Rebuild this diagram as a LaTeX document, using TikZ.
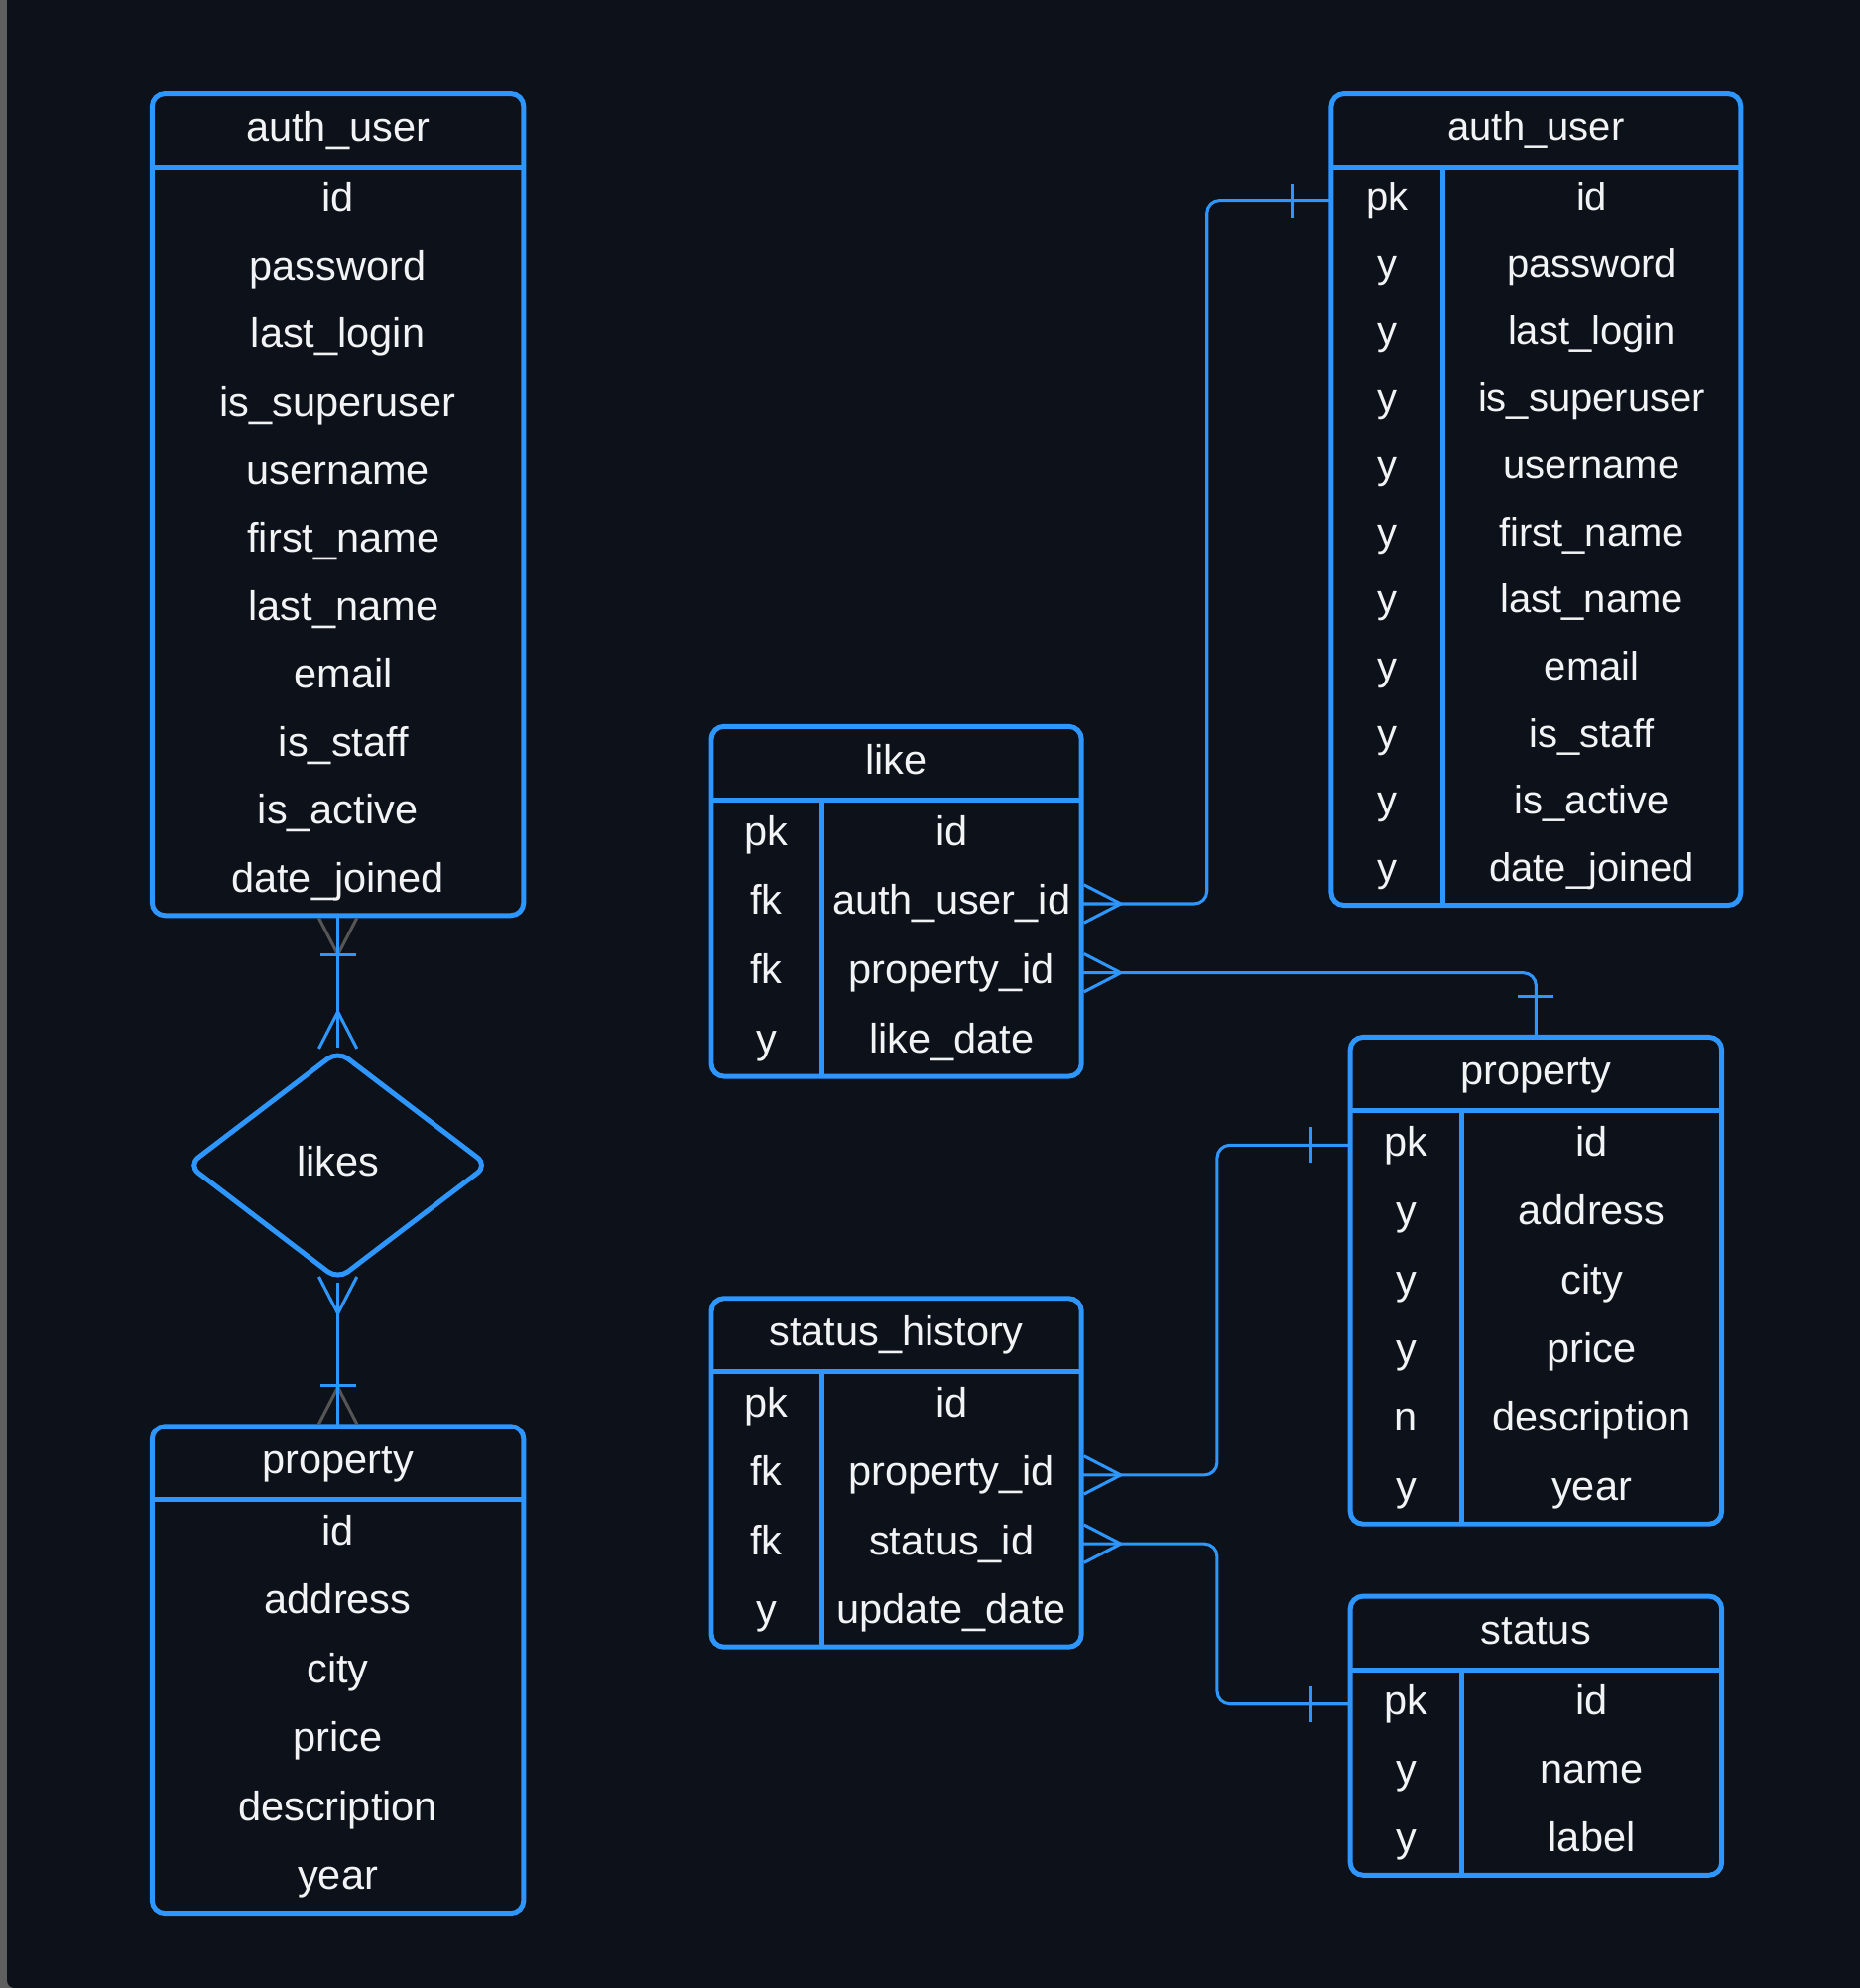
\documentclass[tikz,border=0pt]{standalone}
\usepackage{fontspec}
\setmainfont{Liberation Sans}
\usetikzlibrary{shapes.geometric}
\definecolor{bgdark}{RGB}{13,17,25}
\definecolor{erblue}{RGB}{46,150,255}
\definecolor{frame}{RGB}{95,95,95}
\definecolor{hidden}{RGB}{85,85,85}
\definecolor{txt}{RGB}{242,243,245}
\def\crowfoot[#1](#2)(#3){\draw[#1,shift={(#2)},rotate=#3] (2,15) -- (31,0) -- (2,-15);}
\def\onebar[#1](#2)(#3:#4){\draw[#1,shift={(#2)},rotate=#3] (#4,-14) -- (#4,14);}
\tikzset{
	tbl/.style={rectangle, draw=erblue, line width=3.9pt, rounded corners=10pt, inner sep=0pt, outer sep=0pt},
	sep/.style={draw=erblue, line width=3.9pt},
	cell/.style={text=txt, font=\fontsize{32.5pt}{38pt}\selectfont, inner sep=0pt, text height=25pt, text depth=8pt},
	smallcell/.style={cell, font=\fontsize{31.3pt}{37pt}\selectfont, text height=23pt},
	dia/.style={diamond, draw=erblue, line width=3.9pt, rounded corners=10pt, minimum width=236pt, minimum height=180pt, inner sep=0pt, outer sep=0pt},
	rel/.style={draw=erblue, line width=2.4pt, rounded corners=10pt},
	erend/.style={draw=erblue, line width=2.4pt},
	erhid/.style={draw=hidden, line width=2.4pt}
}

\begin{document}
\begin{tikzpicture}[x=1pt, y=-1pt]
			%%%%% START %%%%%
			
			\useasboundingbox (0,0) rectangle (1467,1568);
			\fill[frame] (0,0) rectangle (1467,1568);
			\fill[bgdark, rounded corners=6pt] (5.5,-20) rectangle (1490,1568);
			
			% left: auth_user -- likes -- property
			\node[tbl, minimum width=293pt, minimum height=648pt] (authL) at (266.5,398) {};
			\draw[sep] ([yshift=-58pt]authL.north west) -- ([yshift=-58pt]authL.north east);
			\node[cell] (authLt) at (266.5,103) {auth\_user};
			\node[cell] (authL1) at (266.5,158.8) {id};
			\node[cell] (authL2) at (266.5,212.5) {password};
			\node[cell] (authL3) at (266.5,266.1) {last\_login};
			\node[cell] (authL4) at (266.5,319.7) {is\_superuser};
			\node[cell] (authL5) at (266.5,373.4) {username};
			\node[cell] (authL6) at (271,427.0) {first\_name};
			\node[cell] (authL7) at (271,480.7) {last\_name};
			\node[cell] (authL8) at (271,534.3) {email};
			\node[cell] (authL9) at (271,587.9) {is\_staff};
			\node[cell] (authL10) at (266.5,641.6) {is\_active};
			\node[cell] (authL11) at (266.5,695.2) {date\_joined};
			
			\node[dia, cell] (likes) at (266.5,919) {likes};
			
			\node[tbl, minimum width=293pt, minimum height=384pt] (propL) at (266.5,1317) {};
			\draw[sep] ([yshift=-58pt]propL.north west) -- ([yshift=-58pt]propL.north east);
			\node[cell] (propLt) at (266.5,1154) {property};
			\node[cell] (propL1) at (266.5,1210.2) {id};
			\node[cell] (propL2) at (266.5,1264.5) {address};
			\node[cell] (propL3) at (266.5,1318.8) {city};
			\node[cell] (propL4) at (266.5,1373.2) {price};
			\node[cell] (propL5) at (266.5,1427.5) {description};
			\node[cell] (propL6) at (266.5,1481.8) {year};
			
			\crowfoot[erhid](authL.south)(-90);
			\crowfoot[erhid](propL.north)(90);
			\draw[rel, shorten >=3pt] (authL.south) -- (likes.north);
			\draw[rel, shorten <=3pt] (likes.south) -- (propL.north);
			\onebar[erend](authL.south)(-90:31);
			\crowfoot[erend](likes.north)(90);
			\crowfoot[erend]([yshift=4pt]likes.south)(-90);
			\onebar[erend](propL.north)(90:32);
			
			% middle: like, status_history
			\node[tbl, minimum width=292pt, minimum height=276pt] (like) at (707,711) {};
			\draw[sep] ([yshift=-58pt]like.north west) -- ([yshift=-58pt]like.north east);
			\draw[sep] ([xshift=87pt,yshift=-58pt]like.north west) -- ([xshift=87pt]like.south west);
			\node[cell] (liket) at (707,602) {like};
			\node[cell] (likeK1) at (604.5,658.3) {pk}; \node[cell] (likeF1) at (750.5,658.3) {id};
			\node[cell] (likeK2) at (604.5,712.8) {fk}; \node[cell] (likeF2) at (750.5,712.8) {auth\_user\_id};
			\node[cell] (likeK3) at (604.5,767.3) {fk}; \node[cell] (likeF3) at (750.5,767.3) {property\_id};
			\node[cell] (likeK4) at (604.5,821.8) {y}; \node[cell] (likeF4) at (750.5,821.8) {like\_date};
			
			\node[tbl, minimum width=292pt, minimum height=275pt] (hist) at (707,1161.5) {};
			\draw[sep] ([yshift=-58pt]hist.north west) -- ([yshift=-58pt]hist.north east);
			\draw[sep] ([xshift=87pt,yshift=-58pt]hist.north west) -- ([xshift=87pt]hist.south west);
			\node[cell] (histt) at (707,1053) {status\_history};
			\node[cell] (histK1) at (604.5,1109.1) {pk}; \node[cell] (histF1) at (750.5,1109.1) {id};
			\node[cell] (histK2) at (604.5,1163.4) {fk}; \node[cell] (histF2) at (750.5,1163.4) {property\_id};
			\node[cell] (histK3) at (604.5,1217.6) {fk}; \node[cell] (histF3) at (750.5,1217.6) {status\_id};
			\node[cell] (histK4) at (604.5,1271.9) {y}; \node[cell] (histF4) at (750.5,1271.9) {update\_date};
			
			% right: auth_user, property, status
			\node[tbl, minimum width=323pt, minimum height=640pt] (authR) at (1211.5,394) {};
			\draw[sep] ([yshift=-58pt]authR.north west) -- ([yshift=-58pt]authR.north east);
			\draw[sep] ([xshift=88pt,yshift=-58pt]authR.north west) -- ([xshift=88pt]authR.south west);
			\node[smallcell] (authRt) at (1211.5,103) {auth\_user};
			\node[smallcell] (authRK1) at (1094,158.5) {pk}; \node[smallcell] (authRF1) at (1255.5,158.5) {id};
			\node[smallcell] (authRK2) at (1094,211.4) {y}; \node[smallcell] (authRF2) at (1255.5,211.4) {password};
			\node[smallcell] (authRK3) at (1094,264.3) {y}; \node[smallcell] (authRF3) at (1255.5,264.3) {last\_login};
			\node[smallcell] (authRK4) at (1094,317.2) {y}; \node[smallcell] (authRF4) at (1255.5,317.2) {is\_superuser};
			\node[smallcell] (authRK5) at (1094,370.1) {y}; \node[smallcell] (authRF5) at (1255.5,370.1) {username};
			\node[smallcell] (authRK6) at (1094,423.0) {y}; \node[smallcell] (authRF6) at (1255.5,423.0) {first\_name};
			\node[smallcell] (authRK7) at (1094,475.9) {y}; \node[smallcell] (authRF7) at (1255.5,475.9) {last\_name};
			\node[smallcell] (authRK8) at (1094,528.9) {y}; \node[smallcell] (authRF8) at (1255.5,528.9) {email};
			\node[smallcell] (authRK9) at (1094,581.8) {y}; \node[smallcell] (authRF9) at (1255.5,581.8) {is\_staff};
			\node[smallcell] (authRK10) at (1094,634.7) {y}; \node[smallcell] (authRF10) at (1255.5,634.7) {is\_active};
			\node[smallcell] (authRK11) at (1094,687.6) {y}; \node[smallcell] (authRF11) at (1255.5,687.6) {date\_joined};
			
			\node[tbl, minimum width=293pt, minimum height=384pt] (propR) at (1211.5,1010) {};
			\draw[sep] ([yshift=-58pt]propR.north west) -- ([yshift=-58pt]propR.north east);
			\draw[sep] ([xshift=88pt,yshift=-58pt]propR.north west) -- ([xshift=88pt]propR.south west);
			\node[cell] (propRt) at (1211.5,847) {property};
			\node[cell] (propRK1) at (1109,903.2) {pk}; \node[cell] (propRF1) at (1255.5,903.2) {id};
			\node[cell] (propRK2) at (1109,957.5) {y}; \node[cell] (propRF2) at (1255.5,957.5) {address};
			\node[cell] (propRK3) at (1109,1011.8) {y}; \node[cell] (propRF3) at (1255.5,1011.8) {city};
			\node[cell] (propRK4) at (1109,1066.2) {y}; \node[cell] (propRF4) at (1255.5,1066.2) {price};
			\node[cell] (propRK5) at (1109,1120.5) {n}; \node[cell] (propRF5) at (1255.5,1120.5) {description};
			\node[cell] (propRK6) at (1109,1174.8) {y}; \node[cell] (propRF6) at (1255.5,1174.8) {year};
			
			\node[tbl, minimum width=293pt, minimum height=220pt] (stat) at (1211.5,1369) {};
			\draw[sep] ([yshift=-58pt]stat.north west) -- ([yshift=-58pt]stat.north east);
			\draw[sep] ([xshift=88pt,yshift=-58pt]stat.north west) -- ([xshift=88pt]stat.south west);
			\node[cell] (statt) at (1211.5,1288) {status};
			\node[cell] (statK1) at (1109,1344) {pk}; \node[cell] (statF1) at (1255.5,1344) {id};
			\node[cell] (statK2) at (1109,1398) {y}; \node[cell] (statF2) at (1255.5,1398) {name};
			\node[cell] (statK3) at (1109,1452) {y}; \node[cell] (statF3) at (1255.5,1452) {label};
			
			% relations
			\coordinate (bendA) at (952,0);
			\coordinate (bendB) at (960,0);
			\draw[rel] (authR.west |- authRK1) -- (bendA |- authRK1) -- (bendA |- likeF2) -- (like.east |- likeF2);
			\draw[rel] (like.east |- likeF3) -| (propR.north);
			\draw[rel] (hist.east |- histF2) -- (bendB |- histF2) -- (bendB |- propRK1) -- (propR.west |- propRK1);
			\draw[rel] (hist.east |- histF3) -- (bendB |- histF3) -- (bendB |- statK1) -- (stat.west |- statK1);
			
			\crowfoot[erend](like.east |- likeF2)(0);
			\crowfoot[erend](like.east |- likeF3)(0);
			\crowfoot[erend](hist.east |- histF2)(0);
			\crowfoot[erend](hist.east |- histF3)(0);
			\onebar[erend](authR.west |- authRK1)(180:31);
			\onebar[erend](propR.north)(90:32);
			\onebar[erend](propR.west |- propRK1)(180:31);
			\onebar[erend](stat.west |- statK1)(180:31);
			
			%%%%% END %%%%%
\end{tikzpicture}
\end{document}
